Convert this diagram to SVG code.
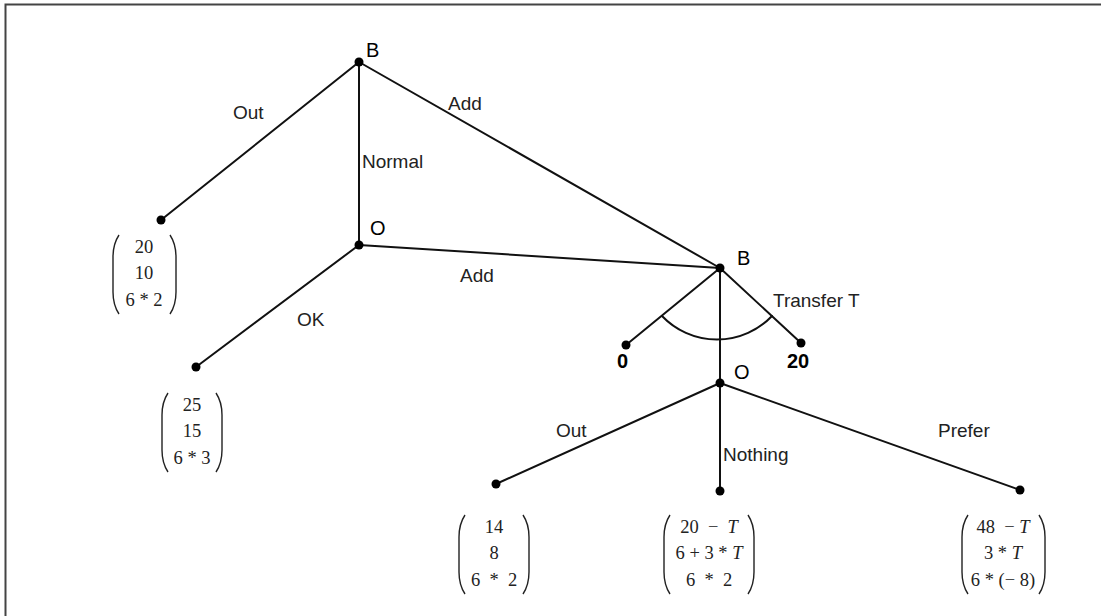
<svg xmlns="http://www.w3.org/2000/svg" width="1101" height="616" viewBox="0 0 1101 616">
<style>
.edge{stroke:#111;stroke-width:2;fill:none;stroke-linecap:round}
.dot{fill:#000}
.lbl{font-family:"Liberation Sans",Arial,sans-serif;font-size:19px;fill:#222}
.nl{font-family:"Liberation Sans",Arial,sans-serif;font-size:20px;fill:#000}
.bl{font-family:"Liberation Sans",Arial,sans-serif;font-size:20px;font-weight:bold;fill:#000}
.vt{font-family:"Liberation Serif","Times New Roman",serif;font-size:18.5px;fill:#222;text-anchor:middle}
.br{stroke:#222;stroke-width:1.4;fill:none}
.it{font-style:italic}
</style>
<rect x="0" y="0" width="1101" height="616" fill="#fff"/>
<path d="M5.5 616 V4.5 H1101" stroke="#444" stroke-width="2" fill="none"/>
<g id="connectors">
<line class="edge" x1="359" y1="62" x2="161" y2="220"/>
<line class="edge" x1="359" y1="62" x2="359" y2="245"/>
<line class="edge" x1="359" y1="62" x2="720" y2="268"/>
<line class="edge" x1="359" y1="245" x2="196" y2="367"/>
<line class="edge" x1="359" y1="245" x2="720" y2="268"/>
<line class="edge" x1="720" y1="268" x2="626" y2="345"/>
<line class="edge" x1="720" y1="268" x2="801" y2="343"/>
<line class="edge" x1="720" y1="268" x2="720" y2="383"/>
<line class="edge" x1="720" y1="383" x2="496" y2="484"/>
<line class="edge" x1="720" y1="383" x2="720" y2="491"/>
<line class="edge" x1="720" y1="383" x2="1020" y2="490"/>
<path class="edge" d="M662 316 A76 76 0 0 0 772 316"/>
<text class="lbl" x="233" y="119">Out</text>
<text class="lbl" x="448" y="110">Add</text>
<text class="lbl" x="362" y="168">Normal</text>
<text class="lbl" x="460" y="282">Add</text>
<text class="lbl" x="297" y="326">OK</text>
<text class="lbl" x="773" y="307">Transfer T</text>
<text class="lbl" x="556" y="437">Out</text>
<text class="lbl" x="723" y="461">Nothing</text>
<text class="lbl" x="938" y="437">Prefer</text>
</g>
<g id="B1"><circle class="dot" cx="359" cy="62" r="4.5"/><text class="nl" x="366" y="57">B</text></g>
<g id="O1"><circle class="dot" cx="359" cy="245" r="4.5"/><text class="nl" x="370" y="235">O</text></g>
<g id="B2"><circle class="dot" cx="720" cy="268" r="4.5"/><text class="nl" x="737" y="265">B</text></g>
<g id="O2"><circle class="dot" cx="720" cy="383" r="4.5"/><text class="nl" x="734" y="379">O</text></g>
<g id="T0"><circle class="dot" cx="626" cy="345" r="4.5"/><text class="bl" x="617" y="368">0</text></g>
<g id="T20"><circle class="dot" cx="801" cy="343" r="4.5"/><text class="bl" x="787" y="368">20</text></g>
<g id="leaf1"><circle class="dot" cx="161" cy="220" r="4.5"/>
<path class="br" d="M119 235 c-4 6 -6 12 -6 22 v35 c0 10 2 16 6 22"/>
<path class="br" d="M170 235 c4 6 6 12 6 22 v35 c0 10 -2 16 -6 22"/>
<text class="vt" x="144" y="253">20</text><text class="vt" x="144" y="279">10</text><text class="vt" x="144" y="306">6 * 2</text></g>
<g id="leaf2"><circle class="dot" cx="196" cy="367" r="4.5"/>
<path class="br" d="M168 393 c-4 6 -6 12 -6 22 v35 c0 10 2 16 6 22"/>
<path class="br" d="M216 393 c4 6 6 12 6 22 v35 c0 10 -2 16 -6 22"/>
<text class="vt" x="192" y="411">25</text><text class="vt" x="192" y="437">15</text><text class="vt" x="192" y="464">6 * 3</text></g>
<g id="leaf3"><circle class="dot" cx="496" cy="484" r="4.5"/>
<path class="br" d="M465 515 c-4 6 -6 12 -6 22 v35 c0 10 2 16 6 22"/>
<path class="br" d="M523 515 c4 6 6 12 6 22 v35 c0 10 -2 16 -6 22"/>
<text class="vt" x="494" y="533">14</text><text class="vt" x="494" y="559">8</text><text class="vt" x="494" y="586" xml:space="preserve">6  *  2</text></g>
<g id="leaf4"><circle class="dot" cx="720" cy="491" r="4.5"/>
<path class="br" d="M670 515 c-4 6 -6 12 -6 22 v35 c0 10 2 16 6 22"/>
<path class="br" d="M748 515 c4 6 6 12 6 22 v35 c0 10 -2 16 -6 22"/>
<text class="vt" x="709" y="533" xml:space="preserve">20  −  <tspan class="it">T</tspan></text><text class="vt" x="709" y="559">6 + 3 * <tspan class="it">T</tspan></text><text class="vt" x="709" y="586" xml:space="preserve">6  *  2</text></g>
<g id="leaf5"><circle class="dot" cx="1020" cy="490" r="4.5"/>
<path class="br" d="M968 515 c-4 6 -6 12 -6 22 v35 c0 10 2 16 6 22"/>
<path class="br" d="M1039 515 c4 6 6 12 6 22 v35 c0 10 -2 16 -6 22"/>
<text class="vt" x="1003" y="533" xml:space="preserve">48  − <tspan class="it">T</tspan></text><text class="vt" x="1003" y="559">3 * <tspan class="it">T</tspan></text><text class="vt" x="1003" y="586">6 * (− 8)</text></g>
</svg>
